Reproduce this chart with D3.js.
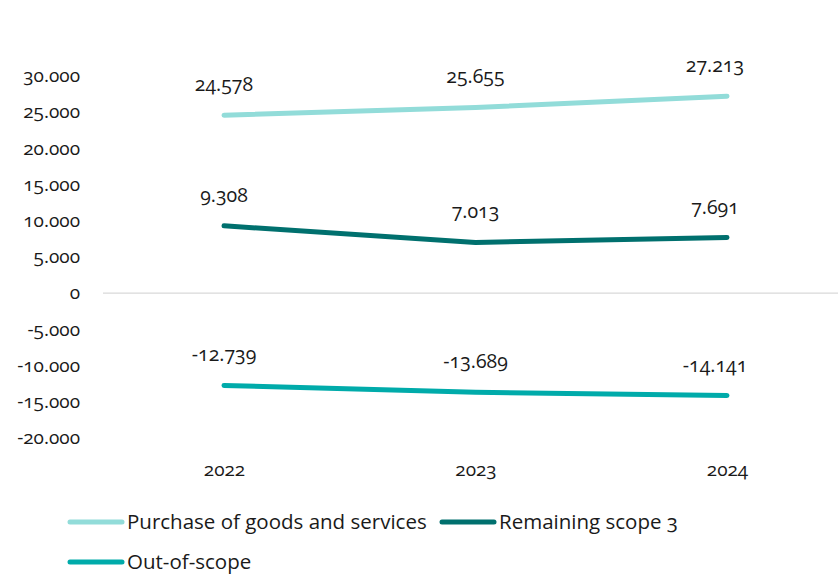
<!DOCTYPE html>
<html>
  <head>
    <meta charset="utf-8">
    <title>Scope 3 emissions</title>
    <style>
      body { margin: 0; background: #fff; }
      svg text { font-family: "Open Sans", "Noto Sans", sans-serif; font-variant-numeric: oldstyle-nums; fill: #1a1a1a; }
    </style>
  </head>
  <body>
    <svg id="chart" width="838" height="577"></svg>
    <script src="https://d3js.org/d3.v7.min.js"></script>
    <script>
      years = ['2022', '2023', '2024']
      seriesNames = ['Purchase of goods and services', 'Remaining scope 3', 'Out-of-scope']
      purchase = [24578, 25655, 27213]
      remaining = [9308, 7013, 7691]
      outOfScope = [-12739, -13689, -14141]
      yTicks = [30000, 25000, 20000, 15000, 10000, 5000, 0, -5000, -10000, -15000, -20000]
      colors = ['#92dcd9', '#00706e', '#00abaa']

      width = 838
      height = 577
      svg = d3.select('#chart')

      xScale = d3.scalePoint()
        .domain(years)
        .range([224, 727])
      yScale = d3.scaleLinear()
        .domain([-20000, 30000])
        .range([438, 76])

      // source uses a dot as thousands separator and a plain hyphen for minus
      fmt = v => v === 0 ? '0' : d3.format(',')(v).replace(/,/g, '.').replace('\u2212', '-')

      // zero line
      svg.append('line')
        .attr('x1', 103).attr('x2', width)
        .attr('y1', yScale(0)).attr('y2', yScale(0))
        .style('stroke', '#d9d9d9').style('stroke-width', 1.3)

      yAxis = d3.axisLeft(yScale)
        .tickValues(yTicks)
        .tickFormat(fmt)
        .tickSize(0)
        .tickPadding(0)
      svg.append('g')
        .attr('transform', 'translate(80,0)')
        .call(yAxis)
        .call(g => g.select('.domain').remove())
        .selectAll('text')
          .style('font-size', '19px')
          .attr('dy', '0.3em')

      xAxis = d3.axisBottom(xScale).tickSize(0).tickPadding(0)
      svg.append('g')
        .attr('transform', 'translate(0,470)')
        .call(xAxis)
        .call(g => g.select('.domain').remove())
        .selectAll('text')
          .style('font-size', '19px')
          .attr('dy', '0.3em')

      series = [purchase, remaining, outOfScope]
      line = d3.line()
        .x((d, i) => xScale(years[i]))
        .y(d => yScale(d))

      series.forEach((vals, s) => {
        svg.append('path')
          .datum(vals)
          .attr('d', line)
          .style('fill', 'none')
          .style('stroke', colors[s])
          .style('stroke-width', 5)
          .style('stroke-linecap', 'round')
          .style('stroke-linejoin', 'round')

        svg.append('g').selectAll('text')
          .data(vals)
          .join('text')
            .attr('x', (d, i) => xScale(years[i]) + (i === 2 ? -12 : 0))
            .attr('y', d => yScale(d) - 24)
            .attr('text-anchor', 'middle')
            .style('font-size', '19.5px')
            .text(fmt)
      })

      // legend
      legendPos = [[68, 522], [440, 522], [68, 562]]
      legend = svg.append('g').selectAll('g')
        .data(seriesNames)
        .join('g')
          .attr('transform', (d, i) => `translate(${legendPos[i][0]},${legendPos[i][1]})`)
      legend.append('line')
        .attr('x1', 2).attr('x2', 54)
        .style('stroke', (d, i) => colors[i])
        .style('stroke-width', 5)
        .style('stroke-linecap', 'round')
      legend.append('text')
        .attr('x', 59)
        .attr('dy', '0.35em')
        .style('font-size', '20.5px')
        .text(d => d)
    </script>
  </body>
</html>
